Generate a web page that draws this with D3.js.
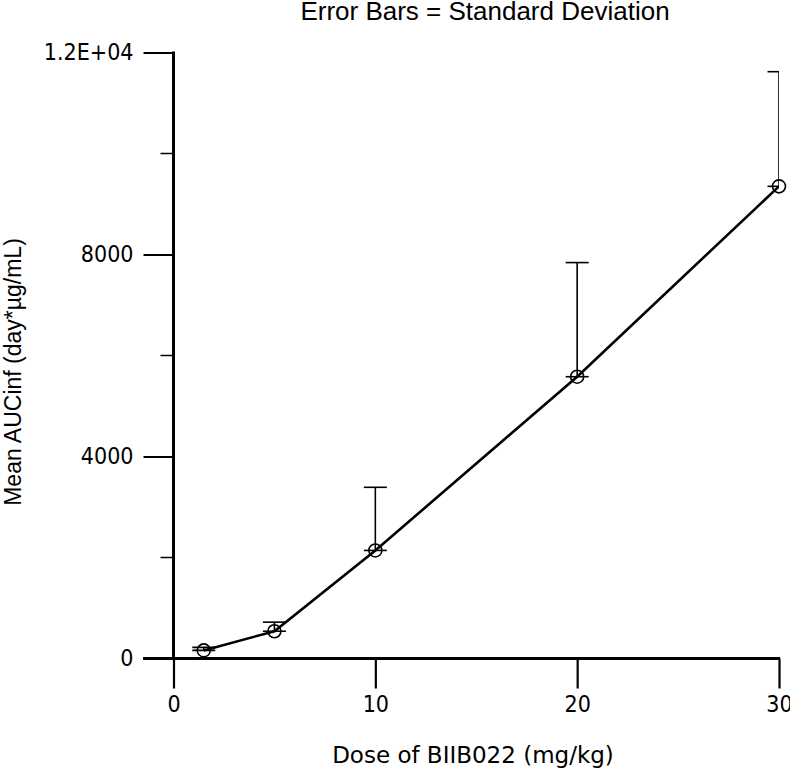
<!DOCTYPE html>
<html><head><meta charset="utf-8">
<script src="https://cdn.jsdelivr.net/npm/d3@7"></script>
<style>body{margin:0;background:#fff}svg{display:block}</style>
</head><body>
<svg id="c" width="790" height="772"></svg>
<script>
const doses = [1.5, 5, 10, 20, 30];
const meanAUC = [160, 540, 2140, 5580, 9350];
const sdAUC = [60, 180, 1250, 2260, 2270];
const xTicks = [0, 10, 20, 30];
const yTicks = [0, 4000, 8000, 12000];
const yTickLabels = ["0", "4000", "8000", "1.2E+04"];
const yMinorTicks = [2000, 6000, 10000];
const title = "Error Bars = Standard Deviation";
const xTitle = "Dose of BIIB022 (mg/kg)";
const yTitle = "Mean AUCinf (day*\u00b5g/mL)";

const svg = d3.select("#c");
const x = d3.scaleLinear().domain([0, 30]).range([173.5, 779]);
const y = d3.scaleLinear().domain([0, 12000]).range([658.5, 52.5]);
const tickFont = "'DejaVu Sans Condensed', 'DejaVu Sans', sans-serif";
const arial = "'Liberation Sans', Arial, sans-serif";

svg.append("defs").append("clipPath").attr("id", "plot")
  .append("rect").attr("x", x(0)).attr("y", 0).attr("width", x(30) - x(0)).attr("height", 700);

// x axis
const xAxis = svg.append("g").attr("transform", `translate(0,${y(0)})`)
  .call(d3.axisBottom(x).tickValues(xTicks).tickSize(30).tickPadding(7).tickFormat(d3.format("d")));
xAxis.select(".domain").remove();
xAxis.selectAll(".tick line").attr("stroke", "#000").attr("stroke-width", 2.2);
xAxis.selectAll(".tick text").attr("font-family", tickFont).attr("font-size", 23).attr("fill", "#000");
svg.append("line").attr("x1", 143).attr("x2", x(30) + 1).attr("y1", y(0)).attr("y2", y(0))
  .attr("stroke", "#000").attr("stroke-width", 3);

// y axis
const yAxis = svg.append("g").attr("transform", `translate(${x(0)},0)`)
  .call(d3.axisLeft(y).tickValues(yTicks).tickSize(30).tickPadding(10).tickFormat((d, i) => yTickLabels[i]));
yAxis.select(".domain").remove();
yAxis.selectAll(".tick line").attr("stroke", "#000").attr("stroke-width", 2);
yAxis.selectAll(".tick text").attr("font-family", tickFont).attr("font-size", 23).attr("fill", "#000");
svg.append("g").selectAll("line").data(yMinorTicks).join("line")
  .attr("x1", x(0) - 13).attr("x2", x(0)).attr("y1", d => y(d)).attr("y2", d => y(d))
  .attr("stroke", "#000").attr("stroke-width", 1.5);
svg.append("line").attr("x1", x(0)).attr("x2", x(0)).attr("y1", y(12000) - 1).attr("y2", y(0))
  .attr("stroke", "#000").attr("stroke-width", 3);

// data
const pts = doses.map((d, i) => ({d, m: meanAUC[i], s: sdAUC[i]}));
const g = svg.append("g").attr("clip-path", "url(#plot)");
const cap = 11.5;
g.selectAll(".eb").data(pts).join("line")
  .attr("x1", p => x(p.d)).attr("x2", p => x(p.d))
  .attr("y1", p => y(p.m)).attr("y2", p => y(p.m + p.s))
  .attr("stroke", "#000").attr("stroke-width", 1.6);
g.selectAll(".capt").data(pts).join("line")
  .attr("x1", p => x(p.d) - cap).attr("x2", p => x(p.d) + cap)
  .attr("y1", p => y(p.m + p.s)).attr("y2", p => y(p.m + p.s))
  .attr("stroke", "#000").attr("stroke-width", 1.6);
g.selectAll(".capm").data(pts).join("line")
  .attr("x1", p => x(p.d) - cap).attr("x2", p => x(p.d) + cap)
  .attr("y1", p => y(p.m)).attr("y2", p => y(p.m))
  .attr("stroke", "#000").attr("stroke-width", 1.6);
g.append("path").datum(pts)
  .attr("d", d3.line().x(p => x(p.d)).y(p => y(p.m)))
  .attr("fill", "none").attr("stroke", "#000").attr("stroke-width", 2.6);
svg.selectAll(".mk").data(pts).join("circle")
  .attr("cx", p => x(p.d)).attr("cy", p => y(p.m)).attr("r", 6.5)
  .attr("fill", "none").attr("stroke", "#000").attr("stroke-width", 1.6);

// titles
svg.append("text").attr("x", 485).attr("y", 20).attr("text-anchor", "middle")
  .attr("font-family", arial).attr("font-size", 26).text(title);
svg.append("text").attr("x", 473).attr("y", 763).attr("text-anchor", "middle")
  .attr("font-family", "'DejaVu Sans', sans-serif").attr("font-size", 23).text(xTitle);
svg.append("text").attr("transform", "translate(21,372) rotate(-90)").attr("text-anchor", "middle")
  .attr("font-family", arial).attr("font-size", 23).text(yTitle);
</script>
</body></html>
